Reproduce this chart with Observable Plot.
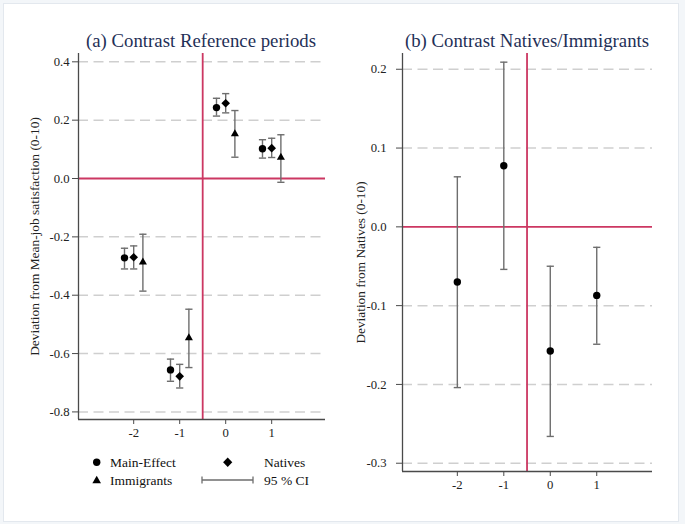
<!DOCTYPE html>
<html><head><meta charset="utf-8">
<script src="https://cdn.jsdelivr.net/npm/d3@7"></script>
<script src="https://cdn.jsdelivr.net/npm/@observablehq/plot@0.6"></script>
<style>
html,body{margin:0;padding:0;background:#f3f6f9;font-family:"Liberation Serif",serif;}
#wrap{position:relative;width:685px;height:524px;overflow:hidden;}
#box{position:absolute;left:3px;top:3px;width:674px;height:517px;background:#fff;border:1px solid #e3e8ee;}
.panel{position:absolute;top:0;}
.panel svg text{font-family:"Liberation Serif",serif;}
.title{position:absolute;font-family:"Liberation Serif",serif;font-size:18.8px;line-height:19px;color:#1f3057;white-space:nowrap;transform:translateX(-50%);}
#legend{position:absolute;left:0;top:0;}
</style></head><body>
<div id="wrap"><div id="box"></div>
<div class="panel" id="pa" style="left:0"></div>
<div class="panel" id="pb" style="left:340px"></div>
<div class="title" style="left:201px;top:31px">(a) Contrast Reference periods</div>
<div class="title" style="left:527px;top:31px">(b) Contrast Natives/Immigrants</div>
<svg id="legend" width="340" height="524" font-family="Liberation Serif, serif" font-size="13.5" fill="#111">
  <circle cx="96.7" cy="462.3" r="3.7" fill="#000"/>
  <text x="110" y="467">Main-Effect</text>
  <path d="M227.7,457.6L232.3,462.3L227.7,467L223.1,462.3Z" fill="#000"/>
  <text x="264" y="467">Natives</text>
  <path d="M96.7,475.8L101,483.3L92.4,483.3Z" fill="#000"/>
  <text x="110" y="484.7">Immigrants</text>
  <g stroke="#6e6e6e" stroke-width="1.3" fill="none">
    <path d="M202,480H253M202,476.5V483.5M253,476.5V483.5"/>
  </g>
  <text x="264" y="484.7">95 % CI</text>
</svg>
</div>
<script>
// ---- data ----
const periods = [-2, -1, 0, 1];
const seriesNames = ["Main-Effect", "Natives", "Immigrants"];
const mainEst = [-0.272, -0.656, 0.243, 0.102];
const mainLo  = [-0.310, -0.695, 0.214, 0.070];
const mainHi  = [-0.239, -0.619, 0.275, 0.133];
const nativesEst = [-0.270, -0.678, 0.258, 0.104];
const nativesLo  = [-0.310, -0.718, 0.225, 0.072];
const nativesHi  = [-0.231, -0.637, 0.291, 0.138];
const immigEst = [-0.287, -0.546, 0.153, 0.072];
const immigLo  = [-0.386, -0.648, 0.073, -0.013];
const immigHi  = [-0.191, -0.448, 0.233, 0.150];
const diffEst = [-0.070, 0.0775, -0.1575, -0.087];
const diffLo  = [-0.204, -0.054, -0.266, -0.149];
const diffHi  = [0.0635, 0.209, -0.050, -0.026];
const yTicksA = [-0.8, -0.6, -0.4, -0.2, 0.0, 0.2, 0.4];
const yTicksB = [-0.3, -0.2, -0.1, 0.0, 0.1, 0.2];
const yLabelA = "Deviation from Mean-job satisfaction (0-10)";
const yLabelB = "Deviation from Natives (0-10)";
const xDomainA = [-3.2, 2.17], yDomainA = [-0.826, 0.4285];
const xDomainB = [-3.18, 2.2], yDomainB = [-0.3105, 0.22];
const refPeriod = -0.5;

// ---- styles ----
const red = "#cc3762", gray = "#6e6e6e", axisCol = "#4a4a4a", gridCol = "#cfcfcf";
const dodge = [-0.2, 0, 0.2];
const symbols = ["circle", "diamond2", "triangle"];
const radii = [3.7, 3.9, 3.0];
const cap = {draw(ctx){ ctx.moveTo(-3.6, 0); ctx.lineTo(3.6, 0); }};
const fmt = d => d.toFixed(1);
const font = {fontFamily: "'Liberation Serif', serif", fontSize: "12.5px", color: "#222", background: "transparent", overflow: "visible"};

const estA = [mainEst, nativesEst, immigEst], loA = [mainLo, nativesLo, immigLo], hiA = [mainHi, nativesHi, immigHi];
const rowsA = [];
seriesNames.forEach((s, si) => periods.forEach((p, i) => rowsA.push({series: s, si, x: p + dodge[si], est: estA[si][i], lo: loA[si][i], hi: hiA[si][i]})));
const rowsB = periods.map((p, i) => ({x: p, est: diffEst[i], lo: diffLo[i], hi: diffHi[i]}));

function errMarks(rows) {
  return [
    Plot.ruleX(rows, {x: "x", y1: "lo", y2: "hi", stroke: gray, strokeWidth: 1.4}),
    Plot.dot(rows, {x: "x", y: "lo", symbol: cap, r: 3, fill: "none", stroke: gray, strokeWidth: 1.4}),
    Plot.dot(rows, {x: "x", y: "hi", symbol: cap, r: 3, fill: "none", stroke: gray, strokeWidth: 1.4})
  ];
}

const plotA = Plot.plot({
  width: 340, height: 524, marginLeft: 78, marginRight: 15, marginTop: 53, marginBottom: 105,
  x: {domain: xDomainA}, y: {domain: yDomainA},
  style: font,
  marks: [
    Plot.ruleY(yTicksA.filter(d => d !== 0), {stroke: gridCol, strokeDasharray: "10,5.5", strokeWidth: 1.5}),
    Plot.ruleY([0], {stroke: red, strokeWidth: 1.8}),
    Plot.ruleX([refPeriod], {stroke: red, strokeWidth: 1.8}),
    ...errMarks(rowsA),
    ...seriesNames.map((s, si) => Plot.dot(rowsA.filter(d => d.si === si), {x: "x", y: "est", symbol: symbols[si], r: radii[si], fill: "#000", stroke: "none"})),
    Plot.axisY({ticks: yTicksA, tickSize: 6, tickPadding: 3, tickFormat: fmt, label: null, fontSize: 12.7, stroke: axisCol}),
    Plot.axisX({ticks: periods, tickSize: 5, tickPadding: 3, tickFormat: d => String(d), label: null, fontSize: 12.7, stroke: axisCol}),
    Plot.text([yLabelA], {text: d => d, frameAnchor: "left", textAnchor: "middle", lineAnchor: "middle", rotate: -90, dx: -43.5, fontSize: 13.4, fill: "#222"}),
    Plot.ruleX([xDomainA[0]], {stroke: axisCol, strokeWidth: 1.3}),
    Plot.ruleY([yDomainA[0]], {stroke: axisCol, strokeWidth: 1.3})
  ]
});
document.getElementById("pa").appendChild(plotA);

const plotB = Plot.plot({
  width: 345, height: 524, marginLeft: 62, marginRight: 33, marginTop: 53, marginBottom: 53,
  x: {domain: xDomainB}, y: {domain: yDomainB},
  style: font,
  marks: [
    Plot.ruleY(yTicksB.filter(d => d !== 0), {stroke: gridCol, strokeDasharray: "10,5.5", strokeWidth: 1.5}),
    Plot.ruleY([0], {stroke: red, strokeWidth: 1.8}),
    Plot.ruleX([refPeriod], {stroke: red, strokeWidth: 1.8}),
    ...errMarks(rowsB),
    Plot.dot(rowsB, {x: "x", y: "est", symbol: "circle", r: 3.7, fill: "#000", stroke: "none"}),
    Plot.axisY({ticks: yTicksB, tickSize: 6, tickPadding: 10, tickFormat: fmt, label: null, fontSize: 12.7, stroke: axisCol}),
    Plot.axisX({ticks: periods, tickSize: 5, tickPadding: 3, tickFormat: d => String(d), label: null, fontSize: 12.7, stroke: axisCol}),
    Plot.text([yLabelB], {text: d => d, frameAnchor: "left", textAnchor: "middle", lineAnchor: "middle", rotate: -90, dx: -41.6, fontSize: 13.3, fill: "#222"}),
    Plot.ruleX([xDomainB[0]], {stroke: axisCol, strokeWidth: 1.3}),
    Plot.ruleY([yDomainB[0]], {stroke: axisCol, strokeWidth: 1.3})
  ]
});
document.getElementById("pb").appendChild(plotB);
</script>
</body></html>
